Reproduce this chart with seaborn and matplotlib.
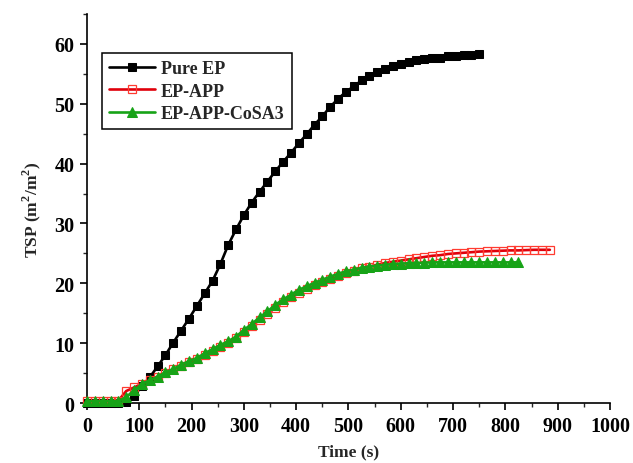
import matplotlib
matplotlib.use("Agg")
import matplotlib.pyplot as plt
from matplotlib.ticker import MultipleLocator
import seaborn as sns
import pandas as pd

# Total smoke production curves (cone calorimeter), sampled every 15 s
series_names = ["Pure EP", "EP-APP", "EP-APP-CoSA3"]

time_pure = list(range(0, 751, 15))
tsp_pure = [0, 0, 0, 0, 0, 0.1, 1.2, 2.8, 4.3, 6.1, 8.0, 10.1, 12.1, 14.1, 16.2,
            18.3, 20.4, 23.2, 26.4, 29.0, 31.4, 33.5, 35.3, 37.0, 38.7, 40.3,
            41.8, 43.4, 44.9, 46.5, 47.9, 49.5, 50.8, 52.0, 52.9, 53.9, 54.7,
            55.3, 55.8, 56.3, 56.7, 57.0, 57.3, 57.4, 57.6, 57.7, 57.9, 58.0,
            58.1, 58.2, 58.3]

time_app = list(range(0, 886, 15))
tsp_app = [0.3, 0.3, 0.3, 0.3, 0.4, 2.0, 2.6, 3.2, 3.8, 4.4, 5.0, 5.6, 6.2, 6.8,
           7.3, 8.0, 8.7, 9.4, 10.1, 10.9, 11.9, 12.9, 13.9, 14.9, 15.9, 16.9,
           17.7, 18.4, 19.1, 19.8, 20.3, 20.8, 21.3, 21.7, 22.1, 22.5, 22.8,
           23.1, 23.4, 23.6, 23.8, 24.0, 24.2, 24.4, 24.6, 24.7, 24.9, 25.0,
           25.1, 25.2, 25.3, 25.35, 25.4, 25.45, 25.5, 25.5, 25.55, 25.6, 25.6,
           25.6]

time_cosa = list(range(0, 826, 15))
tsp_cosa = [0.3, 0.3, 0.3, 0.3, 0.3, 1.0, 2.1, 3.2, 3.8, 4.4, 5.1, 5.7, 6.4, 7.0,
            7.5, 8.3, 9.0, 9.7, 10.3, 11.1, 12.2, 13.2, 14.3, 15.3, 16.4, 17.3,
            18.1, 18.9, 19.5, 20.1, 20.6, 21.1, 21.6, 22.0, 22.3, 22.6, 22.8,
            22.95, 23.1, 23.2, 23.3, 23.35, 23.4, 23.45, 23.5, 23.5, 23.5, 23.5,
            23.5, 23.5, 23.5, 23.5, 23.5, 23.5, 23.5, 23.5]

x_ticks = [0, 100, 200, 300, 400, 500, 600, 700, 800, 900, 1000]
y_ticks = [0, 10, 20, 30, 40, 50, 60]

sns.set_style("ticks")
plt.rcParams["font.family"] = ["Liberation Serif", "DejaVu Serif"]
plt.rcParams["font.weight"] = "bold"
plt.rcParams["mathtext.fontset"] = "custom"
plt.rcParams["mathtext.rm"] = "Liberation Serif:bold"
plt.rcParams["mathtext.bf"] = "Liberation Serif:bold"

fig = plt.figure(figsize=(6.33, 4.64), dpi=100)
ax = fig.add_axes([0.1374, 0.1293, 0.8263, 0.8384])

styles = [
    dict(color="black", marker="s", markersize=5.5, markerfacecolor="black",
         markeredgecolor="black"),
    dict(color="#e0000b", marker="s", markersize=6.2, markerfacecolor="none",
         markeredgecolor="#ff3b30", markeredgewidth=0.9),
    dict(color="#17a317", marker="^", markersize=7, markerfacecolor="#17a317",
         markeredgecolor="#17a317"),
]
data = [(time_pure, tsp_pure), (time_app, tsp_app), (time_cosa, tsp_cosa)]

for name, (t, v), st in zip(series_names, data, styles):
    df = pd.DataFrame({"Time": t, "TSP": v})
    sns.lineplot(data=df, x="Time", y="TSP", ax=ax, label=name, linewidth=1.9,
                 clip_on=False, zorder=3, **st)

ax.set_xlim(0, 1000)
ax.set_ylim(0, 65)
ax.set_xticks(x_ticks)
ax.set_yticks(y_ticks)
ax.xaxis.set_minor_locator(MultipleLocator(50))
ax.yaxis.set_minor_locator(MultipleLocator(5))
ax.tick_params(axis="both", which="major", direction="out", length=5,
               width=1.2, labelsize=14.5, colors="black", pad=4)
ax.tick_params(axis="both", which="minor", direction="out", length=3, width=1.0)
for lab in ax.get_xticklabels() + ax.get_yticklabels():
    lab.set_fontweight("bold")

for side in ["top", "right"]:
    ax.spines[side].set_visible(False)
for side in ["left", "bottom"]:
    ax.spines[side].set_linewidth(1.2)
    ax.spines[side].set_color("black")

ax.set_xlabel("Time (s)", fontsize=12.5, fontweight="bold", labelpad=6)
ax.set_ylabel(r"TSP (m$^{\mathbf{2}}$/m$^{\mathbf{2}}$)", fontsize=12.5,
              fontweight="bold", labelpad=8)

leg = ax.legend(loc="upper left", bbox_to_anchor=(0.029, 0.900), fancybox=False,
                edgecolor="black", framealpha=1, fontsize=13, handlelength=2.5,
                borderpad=0.4, labelspacing=0.3, handletextpad=0.35,
                borderaxespad=0)
leg.get_frame().set_linewidth(1.1)
for txt in leg.get_texts():
    txt.set_fontweight("bold")

fig.savefig("out.png", dpi=100)
